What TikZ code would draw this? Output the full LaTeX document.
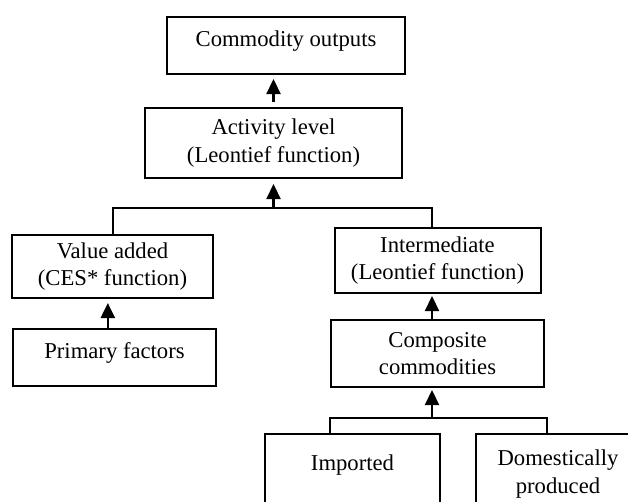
\documentclass[tikz,border=0pt]{standalone}
\usepackage{fontspec}
\setmainfont{Liberation Serif}
\usepackage{tikz}
\usetikzlibrary{arrows.meta}

\tikzset{
  blk/.style={draw, line width=1.5pt, inner sep=0pt, align=center, font=\fontsize{17}{20.5}\selectfont},
  up/.style={-{Triangle[width=10.5pt,length=11.25pt]}, line width=1.7pt},
  link/.style={line width=1.5pt}
}

\begin{document}
\begin{tikzpicture}[x=0.75pt,y=0.75pt,yscale=-1,xscale=1]
\path[use as bounding box] (0,0) rectangle (628,501);
\clip (0,0) rectangle (628,501);

%Shape: Rectangle
\node[blk, anchor=north, minimum width=178.5pt, text height=21.75pt, text depth=21pt] (co) at (286,16) {Commodity outputs};
%Shape: Rectangle
\node[blk, minimum width=192.75pt, minimum height=52.5pt] (al) at (273.5,143) {Activity level\\(Leontief function)};
%Shape: Rectangle
\node[blk, minimum width=150.75pt, minimum height=47.25pt] (va) at (112.5,266.5) {Value added\\(CES* function)};
%Shape: Rectangle
\node[blk, anchor=north, minimum width=152.25pt, text height=21.75pt, text depth=21pt] (pf) at (114.5,328) {Primary factors};
%Shape: Rectangle
\node[blk, minimum width=154.5pt, minimum height=48.75pt] (im) at (437.5,260.5) {Intermediate\\(Leontief function)};
%Shape: Rectangle
\node[blk, minimum width=159.75pt, minimum height=50.25pt] (cc) at (437.5,353.5) {Composite\\commodities};
%Shape: Rectangle
\node[blk, anchor=north, minimum width=131.25pt, text height=27pt, text depth=60pt] (ip) at (352.5,433) {Imported};
%Shape: Rectangle
\node[blk, anchor=north, minimum width=123pt, text height=44.25pt, text depth=45pt] (dp) at (558,433) {Domestically\\produced};

%Straight Lines
\coordinate (jl) at (112.5,208);
\coordinate (jr) at (432,208);
\coordinate (kl) at (330,418);
\coordinate (kr) at (547,418);
\draw[link] (va.north) -- (jl) -- (jr) -- (jr |- im.north);
\draw[link] (ip.north -| kl) -- (kl) -- (kr) -- (kr |- dp.north);

%Arrows
\draw[up, shorten <=3.75pt, shorten >=3pt] (al.north) -- (al.north |- co.south);
\draw[up, shorten >=3.75pt] (al.south |- jl) -- (al.south);
\draw[up, shorten >=3pt] ([xshift=-5pt]pf.north) -- ([xshift=-5pt]pf.north |- va.south);
\draw[up, shorten >=1.5pt] (cc.north -| jr) -- (im.south -| jr);
\draw[up, shorten >=1.5pt] (kl -| jr) -- (cc.south -| jr);

\end{tikzpicture}
\end{document}
